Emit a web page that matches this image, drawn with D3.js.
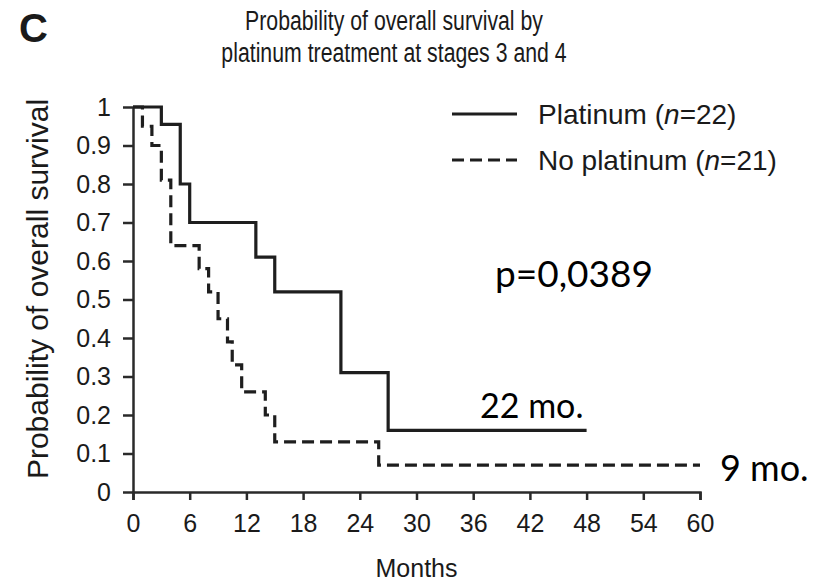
<!DOCTYPE html>
<meta charset="utf-8">
<html lang="en">
  <head>
    <style>
      body { margin: 0; background: #fff; }
      text { font-family: "Liberation Sans", Arial, sans-serif; fill: #1a1a1a; }
      .axis path, .axis line { stroke: #2a2a2a; stroke-width: 2.5px; }
      .axis text { font-size: 25px; font-family: "Liberation Sans", Arial, sans-serif; fill: #1a1a1a; }
      .curve { fill: none; stroke: #1e1e1e; stroke-width: 3.2px; }
      .note { font-family: Lato, "Open Sans", sans-serif; fill: #000; }
    </style>
  </head>
  <body>
    <script src="https://cdn.jsdelivr.net/npm/d3@7"></script>
    <svg></svg>
    <script>

      // Kaplan-Meier steps: [month, survival]
      var platinum = [[0, 1], [3, 0.955], [5, 0.8], [6, 0.7], [13, 0.61], [15, 0.52], [22, 0.31], [27, 0.16], [48, 0.16]];
      var noPlatinum = [[0, 1], [1, 0.95], [2, 0.9], [3, 0.81], [4, 0.64], [7, 0.58], [8, 0.52], [9, 0.45],
                        [10, 0.39], [10.5, 0.33], [11.5, 0.26], [14, 0.2], [15, 0.13], [26, 0.07], [60, 0.07]];

      var xTicks = [0, 6, 12, 18, 24, 30, 36, 42, 48, 54, 60];
      var yTicks = [0, 0.1, 0.2, 0.3, 0.4, 0.5, 0.6, 0.7, 0.8, 0.9, 1];

      var titleLines = ["Probability of overall survival by", "platinum treatment at stages 3 and 4"];
      var legendLabels = [["Platinum (", "n", "=22)"], ["No platinum (", "n", "=21)"]];
      var notes = [["p=0,0389", 495, 287, 37], ["22 mo.", 480, 418, 34], ["9 mo.", 720, 481, 36]];

      var width = 827, height = 584;

      var svg = d3.select("svg")
        .attr("width", width)
        .attr("height", height);

      var x = d3.scaleLinear().domain([0, 60]).range([133, 700]);
      var y = d3.scaleLinear().domain([0, 1]).range([492, 107]);

      // axes
      svg.append("g")
        .attr("class", "axis")
        .attr("transform", "translate(0," + y(0) + ")")
        .call(d3.axisBottom(x).tickValues(xTicks).tickSize(8).tickSizeOuter(8).tickPadding(14));

      svg.append("g")
        .attr("class", "axis")
        .attr("transform", "translate(" + x(0) + ",0)")
        .call(d3.axisLeft(y).tickValues(yTicks).tickSize(10).tickSizeOuter(0).tickPadding(12)
          .tickFormat(function(d) { return d === 0 || d === 1 ? d : d3.format(".1f")(d); }));

      // curves
      var line = d3.line()
        .x(function(d) { return x(d[0]); })
        .y(function(d) { return y(d[1]); })
        .curve(d3.curveStepAfter);

      svg.append("path")
        .datum(platinum)
        .attr("class", "curve")
        .attr("d", line);

      svg.append("path")
        .datum(noPlatinum)
        .attr("class", "curve")
        .attr("stroke-dasharray", "12,6")
        .attr("d", line);

      // title, panel letter, axis titles
      svg.append("text")
        .attr("x", 19).attr("y", 42)
        .style("font-size", "40px").style("font-weight", "bold")
        .text("C");

      svg.append("g")
        .attr("transform", "translate(394,0) scale(0.76,1)")
        .selectAll(".title")
        .data(titleLines)
        .enter()
        .append("text")
        .attr("class", "title")
        .attr("x", 0)
        .attr("y", function(d, i) { return 30 + i * 32; })
        .attr("text-anchor", "middle")
        .style("font-size", "28px")
        .text(function(d) { return d; });

      svg.append("text")
        .attr("transform", "translate(48,289) rotate(-90)")
        .attr("text-anchor", "middle")
        .style("font-size", "30px")
        .text("Probability of overall survival");

      svg.append("text")
        .attr("x", x(30)).attr("y", 577)
        .attr("text-anchor", "middle")
        .style("font-size", "25px")
        .text("Months");

      // legend
      var legend = svg.selectAll(".legend")
        .data(legendLabels)
        .enter()
        .append("g")
        .attr("class", "legend")
        .attr("transform", function(d, i) { return "translate(0," + (114 + i * 46) + ")"; });

      legend.append("line")
        .attr("class", "curve")
        .attr("x1", 452).attr("x2", 517)
        .attr("stroke-dasharray", function(d, i) { return i ? "12,6" : null; });

      var lt = legend.append("text")
        .attr("x", 538).attr("y", 10)
        .style("font-size", "28px");
      lt.append("tspan").text(function(d) { return d[0]; });
      lt.append("tspan").style("font-style", "italic").text(function(d) { return d[1]; });
      lt.append("tspan").text(function(d) { return d[2]; });

      // annotations
      svg.selectAll(".note")
        .data(notes)
        .enter()
        .append("text")
        .attr("class", "note")
        .attr("x", function(d) { return d[1]; })
        .attr("y", function(d) { return d[2]; })
        .style("font-size", function(d) { return d[3] + "px"; })
        .text(function(d) { return d[0]; });

    </script>
  </body>
</html>
